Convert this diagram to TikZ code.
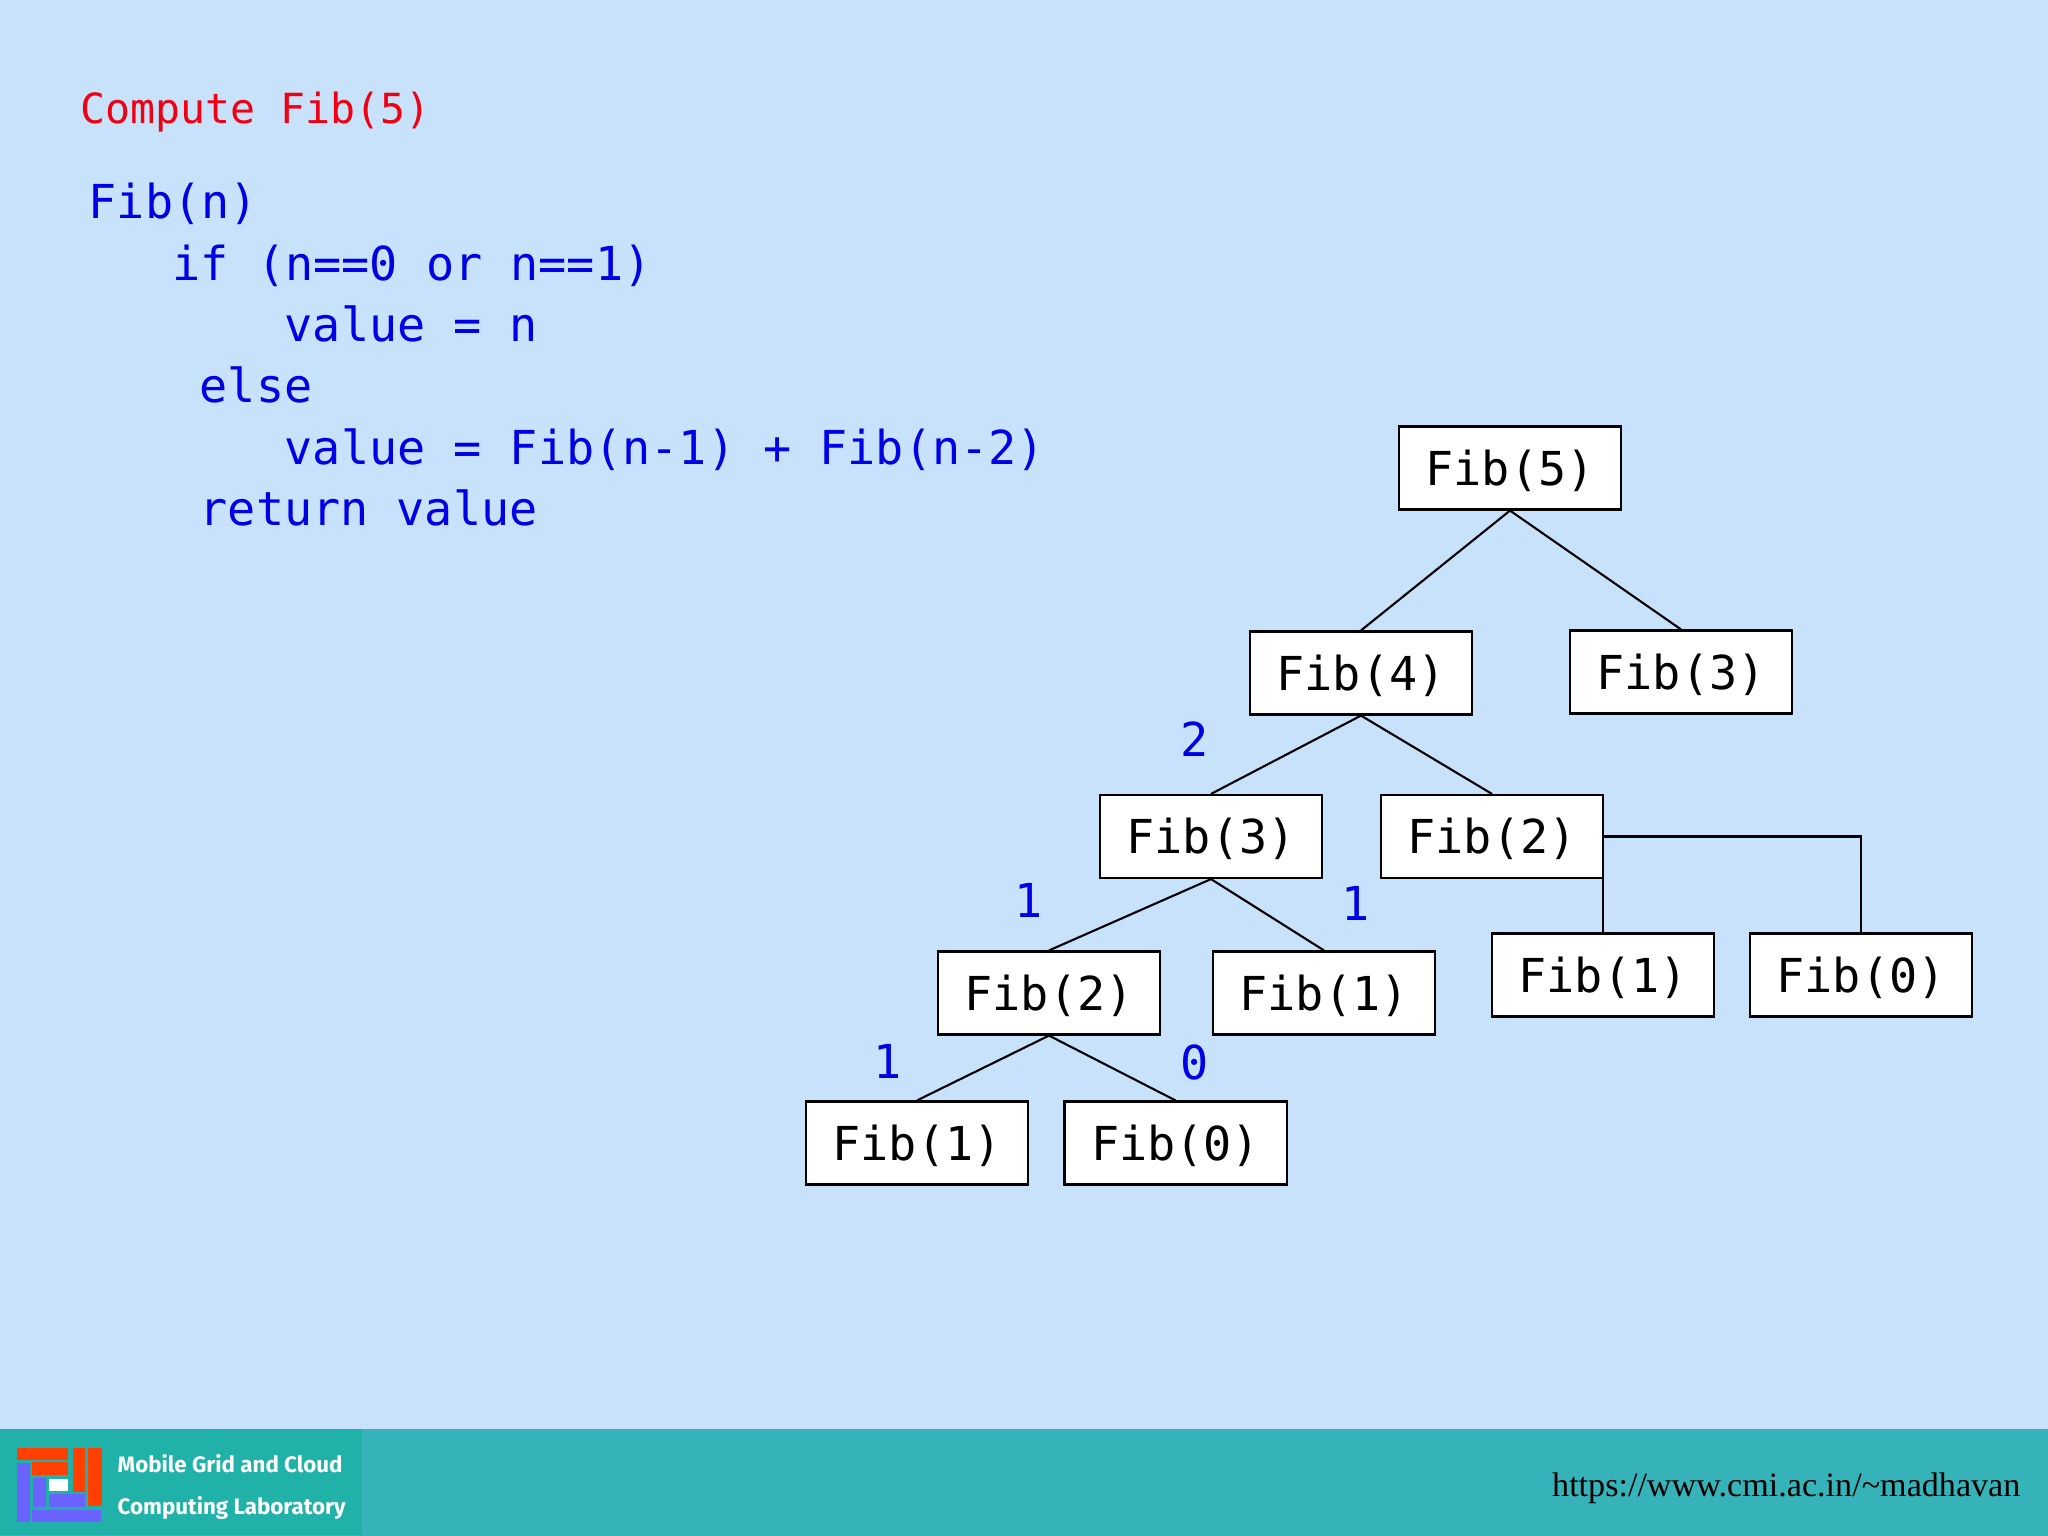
\documentclass[tikz,border=0pt]{standalone}
\usepackage{fontspec}
\setmonofont{DejaVu Sans Mono}
\setmainfont{Liberation Serif}
\newfontfamily\logofont{Fira Sans}
\definecolor{slidebg}{HTML}{C7E2FA}
\definecolor{bandbg}{HTML}{36B3B8}
\definecolor{logobg}{HTML}{20B2A8}
\definecolor{logored}{HTML}{FF4000}
\definecolor{logoblue}{HTML}{6A63FF}
\definecolor{codeblue}{HTML}{0000E6}
\definecolor{titlered}{HTML}{F00010}
\tikzset{fibbox/.style={draw=black, fill=white, line width=0.6pt, minimum width=2.22cm, minimum height=0.83cm, inner sep=0pt, text height=11.5pt, text depth=1.7pt, font=\ttfamily\fontsize{13.3}{15}\selectfont},
codeline/.style={anchor=base west, inner sep=0pt, text=codeblue, font=\ttfamily\fontsize{13.3}{15}\selectfont},
retval/.style={inner sep=0pt, text=codeblue, font=\ttfamily\fontsize{13.3}{15}\selectfont},
logoline/.style={anchor=base west, inner sep=0pt, text=white, font=\logofont\bfseries\fontsize{6.35}{8}\selectfont}}
\begin{document}
\begin{tikzpicture}[x=0.01cm,y=-0.01cm]
\useasboundingbox (0,0) rectangle (2048,1536);
\fill [slidebg] (0,0) rectangle (2048,1536);
% footer
\fill [bandbg] (0,1429) rectangle (2048,1536);
\fill [logobg] (0,1429) rectangle (362,1535);
\foreach \xa/\ya/\xb/\yb in {17/1448/68/1460,32/1462/68/1475,73/1448/85/1492,88/1448/102/1506}
     \fill [logored] (\xa,\ya) rectangle (\xb,\yb);
\foreach \xa/\ya/\xb/\yb in {17/1463/30/1522,33/1478/46/1507,49/1494/85/1507,32/1510/101/1522}
     \fill [logoblue] (\xa,\ya) rectangle (\xb,\yb);
\fill [white] (49,1479) rectangle (68,1491);
\node [logoline] (logoa) at (117,1472) {Mobile Grid and Cloud};
\node [logoline] (logob) at (117,1514) {Computing Laboratory};
\node [anchor=base east, inner sep=0pt, font=\fontsize{9.7}{11}\selectfont] (site) at (2021,1496) {https://www.cmi.ac.in/\char`\~madhavan};

% code
\node [codeline, text=titlered, font=\ttfamily\fontsize{11.8}{14}\selectfont] (title) at (80,123) {Compute Fib(5)};
\node [codeline] (linea) at (88,218) {Fib(n)};
\node [codeline] (lineb) at (172,280) {if (n==0 or n==1)};
\node [codeline] (linec) at (284,341) {value = n};
\node [codeline] (lined) at (199,402) {else};
\node [codeline] (linee) at (284,464) {value = Fib(n-1) + Fib(n-2)};
\node [codeline] (linef) at (199,525) {return value};

% tree
\node [fibbox] (fibfive) at (1510,468) {Fib(5)};
\node [fibbox] (fibfour) at (1361,673) {Fib(4)};
\node [fibbox] (fibthreer) at (1681,672) {Fib(3)};
\node [fibbox] (fibthree) at (1211,836.5) {Fib(3)};
\node [fibbox] (fibtwor) at (1492,836.5) {Fib(2)};
\node [fibbox] (fibtwo) at (1049,993) {Fib(2)};
\node [fibbox] (fibonem) at (1324,993) {Fib(1)};
\node [fibbox] (fiboner) at (1603,975) {Fib(1)};
\node [fibbox] (fibzeror) at (1861,975) {Fib(0)};
\node [fibbox] (fibone) at (917,1143) {Fib(1)};
\node [fibbox] (fibzero) at (1175.5,1143) {Fib(0)};

\foreach \a/\b in {fibfive/fibfour,fibfive/fibthreer,fibfour/fibthree,fibfour/fibtwor,fibthree/fibtwo,fibthree/fibonem,fibtwo/fibone,fibtwo/fibzero}
     \draw [line width=0.6pt] (\a.south) -- (\b.north);
\draw [line width=0.6pt] (fibtwor.south -| fiboner.north) -- (fiboner.north);
\draw [line width=0.6pt] (fibtwor.east) -| (fibzeror.north);

% returned values
\node [retval] (vala) at (1195,739) {2};
\node [retval] (valb) at (1029,900) {1};
\node [retval] (valc) at (1356,903) {1};
\node [retval] (vald) at (888,1061) {1};
\node [retval] (vale) at (1195,1062) {0};
\end{tikzpicture}
\end{document}
